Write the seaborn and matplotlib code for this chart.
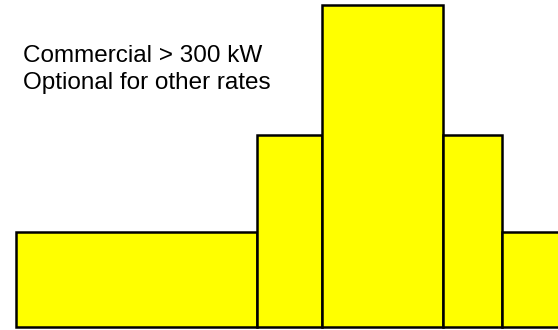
import matplotlib
matplotlib.use("Agg")
import matplotlib.pyplot as plt
import seaborn as sns
import numpy as np

# Time-of-use periods (hours) and relative rate levels
edges = [0.0, 7.93, 10.07, 14.05, 16.0, 18.0]
rates = [0.95, 1.92, 3.22, 1.92, 0.95]
labels = ["Commercial > 300 kW", "Optional for other rates"]

centers = [(a + b) / 2 for a, b in zip(edges[:-1], edges[1:])]

sns.set_theme(style="white")
plt.rcParams['font.family'] = ['Liberation Sans', 'DejaVu Sans']

fig = plt.figure(figsize=(5.58, 3.30), dpi=100)
ax = fig.add_axes([0, 0, 1, 1])
sns.histplot(x=centers, weights=rates, bins=edges, color="#FFFF00",
             edgecolor="black", linewidth=1.8, alpha=1, ax=ax, legend=False)
ax.set_xlim(-0.53, 17.84)
ax.set_ylim(-0.03, 3.27)
ax.axis("off")

fig.text(23 / 558, 1 - 62.3 / 330, labels[0], fontsize=17.5, va="baseline",
         ha="left", color="black")
fig.text(23 / 558, 1 - 89.5 / 330, labels[1], fontsize=17.5, va="baseline",
         ha="left", color="black")

fig.savefig("out.png", dpi=100)
